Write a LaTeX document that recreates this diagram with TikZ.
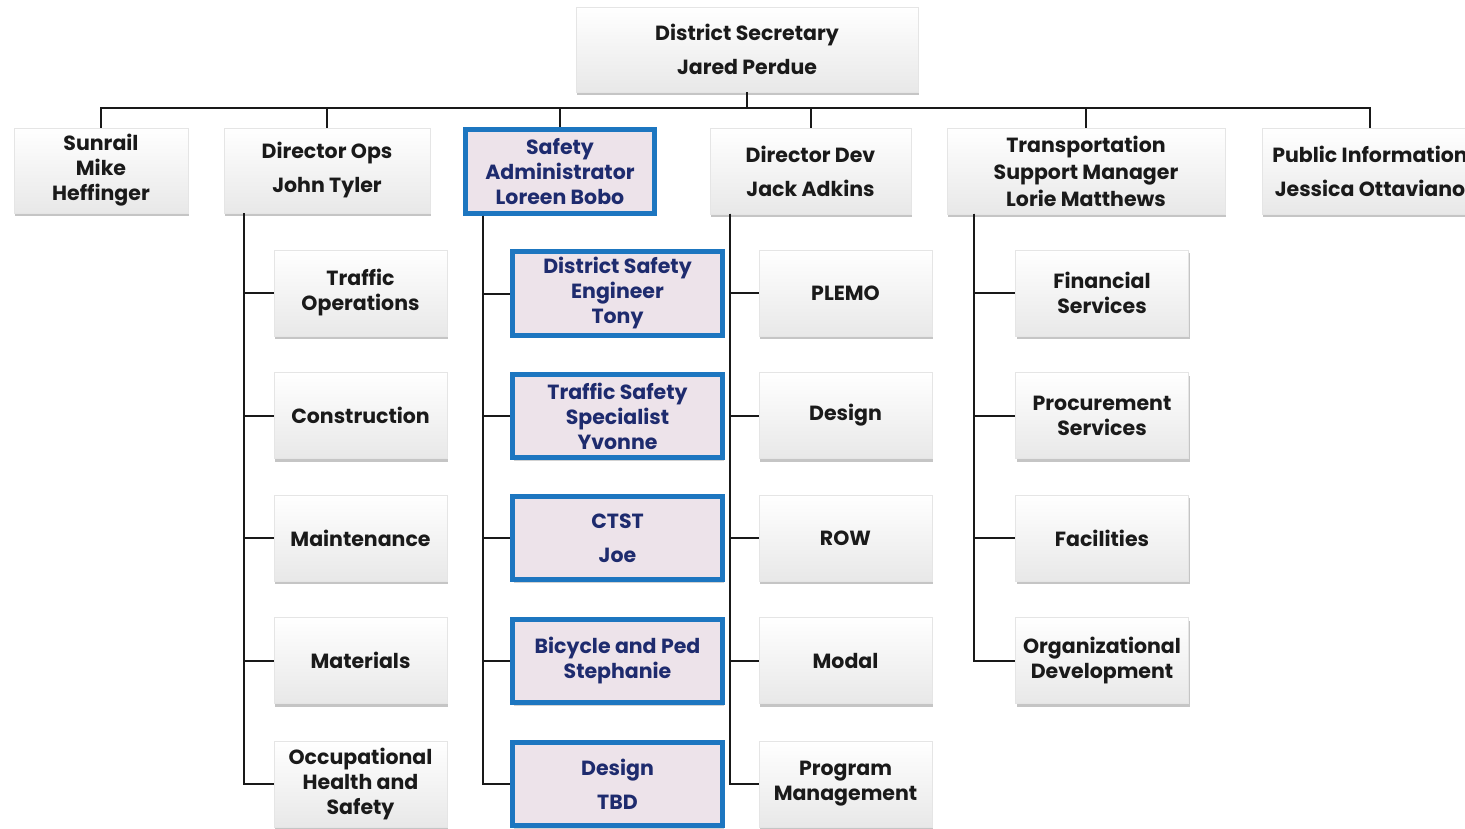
\documentclass[tikz,border=0pt]{standalone}
\usepackage{fontspec}
\setmainfont{Poppins}
\usetikzlibrary{shadows}
\definecolor{bordblue}{HTML}{1D76C0}
\definecolor{navy}{HTML}{1E2B6E}
\definecolor{pinkfill}{HTML}{EDE3EA}
\definecolor{txt}{HTML}{1A1A1A}
\begin{document}
\begin{tikzpicture}[x=1pt,y=-1pt,
  box/.style={draw=gray!20, line width=0.6pt, top color=white, bottom color=gray!18,
    drop shadow={shadow xshift=1pt, shadow yshift=-3pt, fill=gray!75, opacity=0.6},
    align=center, font=\fontsize{20.5}{25}\selectfont\bfseries, text=txt, inner sep=0pt},
  hbox/.style={draw=bordblue, line width=5pt, fill=pinkfill,
    drop shadow={shadow xshift=1pt, shadow yshift=-3pt, fill=gray!70, opacity=0.5},
    align=center, font=\fontsize{20.5}{25}\selectfont\bfseries, text=navy, inner sep=0pt},
  kid/.style={box, minimum width=173pt, minimum height=86pt},
  hkid/.style={hbox, minimum width=210pt, minimum height=83pt},
  conn/.style={line width=2pt, draw=black!90}
]
\useasboundingbox (0,0) rectangle (1465,829);
\fill[white] (0,0) rectangle (1465,829);

% top
\node[box, minimum width=342pt, minimum height=85pt] (top) at (747,49.5) {District Secretary\\[9pt]Jared Perdue};

% level 2
\node[box, minimum width=174pt, minimum height=85pt] (sunrail) at (101,170.5) {Sunrail\\Mike\\Heffinger};
\node[box, minimum width=206pt, minimum height=85pt] (ops) at (327,170.5) {Director Ops\\[9pt]John Tyler};
\node[hbox, minimum width=189pt, minimum height=84pt] (safe) at (560,171.5) {Safety\\Administrator\\Loreen Bobo};
\node[box, minimum width=201pt, minimum height=86pt] (dev) at (810.5,171) {Director Dev\\[9pt]Jack Adkins};
\node[box, minimum width=278pt, minimum height=86pt, font=\fontsize{20.5}{27}\selectfont\bfseries] (tsm) at (1086,171) {Transportation\\Support Manager\\Lorie Matthews};
\node[box, minimum width=216pt, minimum height=86pt] (pub) at (1370,171) {Public Information\\[9pt]Jessica Ottaviano};

% ops column
\node[kid] (o1) at (360.5,293) {Traffic\\Operations};
\node[kid] (o2) at (360.5,415.5) {Construction};
\node[kid] (o3) at (360.5,538) {Maintenance};
\node[kid] (o4) at (360.5,660.5) {Materials};
\node[kid] (o5) at (360.5,784) {Occupational\\Health and\\Safety};

% safety column
\node[hkid] (s1) at (617.5,293.5) {District Safety\\Engineer\\Tony};
\node[hkid] (s2) at (617.5,416) {Traffic Safety\\Specialist\\Yvonne};
\node[hkid] (s3) at (617.5,538) {CTST\\[9pt]Joe};
\node[hkid] (s4) at (617.5,661) {Bicycle and Ped\\Stephanie};
\node[hkid] (s5) at (617.5,784) {Design\\[9pt]TBD};

% dev column
\node[kid] (d1) at (845.5,293) {PLEMO};
\node[kid] (d2) at (845.5,415.5) {Design};
\node[kid] (d3) at (845.5,538) {ROW};
\node[kid] (d4) at (845.5,660.5) {Modal};
\node[kid] (d5) at (845.5,784) {Program\\Management};

% tsm column
\node[kid] (t1) at (1102,293) {Financial\\Services};
\node[kid] (t2) at (1102,415.5) {Procurement\\Services};
\node[kid] (t3) at (1102,538) {Facilities};
\node[kid] (t4) at (1102,660.5) {Organizational\\Development};

% bus
\coordinate (bus) at (0,108);
\draw[conn] (top.south) -- (top.south |- bus);
\draw[conn] (sunrail.north) -- (sunrail.north |- bus) -- (pub.north |- bus) -- (pub.north);
\foreach \n in {ops,safe,dev,tsm} \draw[conn] (\n.north) -- (\n.north |- bus);

% column trunks
\coordinate (opsL) at (244,213.5);
\coordinate (safeL) at (483,216);
\coordinate (devL) at (730,214);
\coordinate (tsmL) at (974,214);
\foreach \c in {o1,o2,o3,o4,o5} \draw[conn] (opsL) |- (\c.west);
\foreach \c in {s1,s2,s3,s4,s5} \draw[conn] (safeL) |- (\c.west);
\foreach \c in {d1,d2,d3,d4,d5} \draw[conn] (devL) |- (\c.west);
\foreach \c in {t1,t2,t3,t4} \draw[conn] (tsmL) |- (\c.west);
\end{tikzpicture}
\end{document}
